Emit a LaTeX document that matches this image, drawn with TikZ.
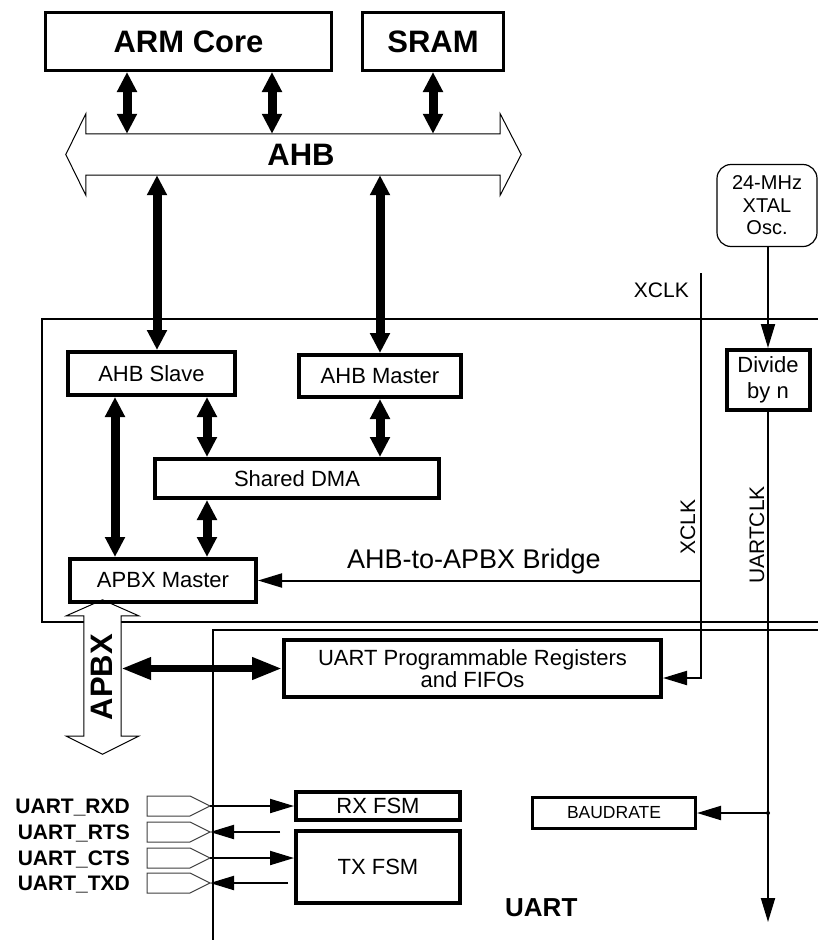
\documentclass[tikz,border=0pt]{standalone}
\usepackage{fontspec}
\setmainfont{Liberation Sans}
\usetikzlibrary{calc,arrows.meta}

\begin{document}
\begin{tikzpicture}[x=1pt, y=-1pt,
    blk/.style={draw, line width=4pt, inner sep=0pt, font=\fontsize{22}{26}\selectfont},
    topblk/.style={draw, line width=3pt, inner sep=0pt, font=\fontsize{31}{34}\selectfont\bfseries},
    frame/.style={line width=2pt},
    wire/.style={line width=2pt},
    tri/.style={-{Triangle[length=24pt,width=14pt]}},
    busarr/.style={line width=9pt, {Triangle[length=20pt,width=19pt]}-{Triangle[length=20pt,width=19pt]}},
    busline/.style={line width=1pt, fill=white},
    lbl/.style={inner sep=0pt, font=\fontsize{21}{24}\selectfont},
    pinlbl/.style={inner sep=0pt, anchor=base east, font=\fontsize{21}{24}\selectfont\bfseries},
    pinshape/.style={line width=1pt, draw=black!75}]

\path[use as bounding box, fill=white] (0,0) rectangle (818,940);
\clip (0,0) rectangle (818,940);

% bridge and uart blocks
\draw[frame] (42,319) rectangle (830,622);
\draw[frame] (213,630) rectangle (830,950);

% AHB bus
\node[minimum width=414pt, minimum height=41pt, inner sep=0pt] (ahb) at (293,154.5) {};
\draw[busline] (ahb.north west) -- (ahb.north east) -- ++(0,-20) -- ($(ahb.east)+(21,0)$)
    -- ($(ahb.south east)+(0,20)$) -- (ahb.south east) -- (ahb.south west) -- ++(0,20)
    -- ($(ahb.west)+(-20,0)$) -- ($(ahb.north west)+(0,-20)$) -- cycle;
\node[inner sep=0pt, font=\fontsize{31}{34}\selectfont\bfseries] (ahblbl) at (301,155) {AHB};

% APBX bus
\node[minimum width=37pt, minimum height=120pt, inner sep=0pt] (apbx) at (102.5,676) {};
\draw[busline] (apbx.north west) -- ++(-17.5,0) -- ($(apbx.north)+(0,-16)$)
    -- ($(apbx.north east)+(17.5,0)$) -- (apbx.north east) -- (apbx.south east) -- ++(17.5,0)
    -- ($(apbx.south)+(0,18)$) -- ($(apbx.south west)+(-17.5,0)$) -- (apbx.south west) -- cycle;
\node[inner sep=0pt, rotate=90, font=\fontsize{31}{34}\selectfont\bfseries] (apbxlbl) at (102,677) {APBX};

\node[topblk, minimum width=286pt, minimum height=58pt] (arm) at (188.5,41.5) {ARM Core};
\node[topblk, minimum width=141pt, minimum height=58pt] (sram) at (433,41.5) {SRAM};

\node[blk, minimum width=167pt, minimum height=43pt] (slave) at (151.5,373.5) {AHB Slave};
\node[blk, minimum width=162pt, minimum height=42pt] (master) at (380,376) {AHB Master};
\node[blk, minimum width=284pt, minimum height=39pt] (dma) at (297,478.5) {Shared DMA};
\node[blk, minimum width=186pt, minimum height=43pt] (apbxm) at (163,580.5) {APBX Master};
\node[blk, minimum width=377pt, minimum height=57pt, align=center, font=\fontsize{22}{20.5}\selectfont] (uartreg) at (472.5,668.5) {UART Programmable Registers\\and FIFOs};
\node[blk, minimum width=164pt, minimum height=28pt] (rxfsm) at (378,806) {RX FSM};
\node[blk, minimum width=164pt, minimum height=72pt] (txfsm) at (378,867) {TX FSM};
\node[blk, line width=3pt, minimum width=163pt, minimum height=31pt, font=\fontsize{17.5}{20}\selectfont] (baud) at (614,813) {BAUDRATE};
\node[blk, minimum width=83pt, minimum height=60pt, align=center] (divide) at (768,380) {Divide\\by n};
\node[draw, line width=1.2pt, rounded corners=14pt, minimum width=100pt, minimum height=82pt, inner sep=0pt, align=center, font=\fontsize{20}{22.5}\selectfont] (osc) at (767,205.5) {24-MHz\\XTAL\\Osc.};

% clocks
\node[lbl, anchor=east] (xclkin) at (689,290) {XCLK};
\coordinate (xclktop) at (701,273);
\node[lbl, rotate=90] (xclklbl) at (688,527) {XCLK};
\node[lbl, rotate=90] (uclklbl) at (757,535) {UARTCLK};
\coordinate (clkend) at (768,922);

\node[inner sep=0pt, anchor=base west, font=\fontsize{27}{30}\selectfont] (bridge) at (347,568) {AHB-to-APBX Bridge};
\node[inner sep=0pt, anchor=west, font=\fontsize{26}{30}\selectfont\bfseries] (uart) at (505,908) {UART};

\draw[wire, tri] (osc.south -| divide.north) -- (divide.north);
\draw[wire, tri] (divide.south) -- (clkend);
\draw[wire, tri] (divide.south |- baud.east) -- (baud.east);
\fill (divide.south |- baud.east) circle (2pt);
\draw[wire, tri] (xclktop) |- ([yshift=-9.5pt]uartreg.east);
\draw[wire, tri] (xclktop |- apbxm.east) -- (apbxm.east);

% bus connections
\draw[busarr] (arm.south -| 127,0) -- (ahb.north -| 127,0);
\draw[busarr] (arm.south -| 272,0) -- (ahb.north -| 272,0);
\draw[busarr] (sram.south) -- (sram.south |- ahb.north);
\draw[busarr] (ahb.south -| 157,0) -- (slave.north -| 157,0);
\draw[busarr] (ahb.south -| master.north) -- (master.north);
\draw[busarr] (slave.south -| 115,0) -- (apbxm.north -| 115,0);
\draw[busarr] (slave.south -| 207,0) -- (dma.north -| 207,0);
\draw[busarr] (master.south) -- (master.south |- dma.north);
\draw[busarr] (dma.south -| 207,0) -- (apbxm.north -| 207,0);
\draw[line width=7pt, {Triangle[length=30pt,width=21pt]}-{Triangle[length=30pt,width=21pt]}] (apbx.east |- uartreg.west) -- (uartreg.west);

% pins
\foreach \nm/\yy in {RXD/806, RTS/832, CTS/858, TXD/883}{
  \coordinate (pin\nm) at (210,\yy);
  \draw[pinshape] (pin\nm) -- ++(-20,-10) -- ++(-43,0) -- ++(0,20) -- ++(43,0) -- cycle;
  \node[pinlbl] (lbl\nm) at (130,\yy+7.5) {UART\_\nm};
}
\draw[wire, tri] (pinRXD) -- (pinRXD -| rxfsm.west);
\draw[wire, tri] ($(pinRTS -| txfsm.west)+(-14,0)$) -- (pinRTS);
\draw[wire, tri] (pinCTS) -- (pinCTS -| txfsm.west);
\draw[wire, tri] ($(pinTXD -| txfsm.west)+(-6,0)$) -- (pinTXD);
\end{tikzpicture}
\end{document}
